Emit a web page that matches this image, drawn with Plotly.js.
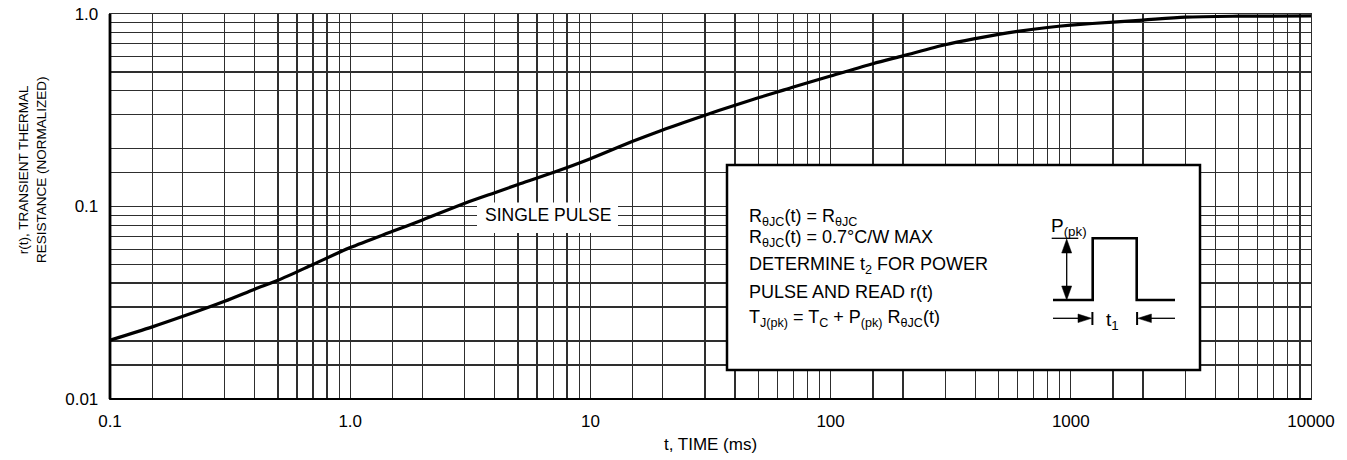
<!DOCTYPE html>
<html>
<head>
<meta charset="utf-8">
<script src="https://cdn.plot.ly/plotly-3.0.1.min.js"></script>
<style>
html,body{margin:0;padding:0;background:#fff;}
#chart{width:1347px;height:460px;}
</style>
</head>
<body>
<div id="chart"></div>
<script>
// ---- data ----
var timeMs = [0.1, 0.15, 0.2, 0.3, 0.4, 0.5, 0.7, 1.0, 1.5, 2, 3, 4, 5, 7, 10, 15, 20, 30, 40, 50, 60, 70, 100, 150, 200, 300, 400, 500, 600, 800, 1000, 1500, 2000, 3000, 5000, 10000];
var rNorm  = [0.0202, 0.0237, 0.0268, 0.0322, 0.0372, 0.0414, 0.0500, 0.0612, 0.0743, 0.0851, 0.104, 0.118, 0.130, 0.150, 0.177, 0.218, 0.250, 0.298, 0.336, 0.367, 0.393, 0.418, 0.476, 0.552, 0.606, 0.692, 0.745, 0.784, 0.812, 0.851, 0.875, 0.908, 0.930, 0.963, 0.974, 0.978];

var xDecadeVals = [0.1, 1, 10, 100, 1000, 10000];
var xDecadeText = ['0.1', '1.0', '10', '100', '1000', '10000'];
var yDecadeVals = [0.01, 0.1, 1];
var yDecadeText = ['0.01', '0.1', '1.0'];
var gridMantissas = [1.5, 2, 3, 4, 5, 6, 7, 8, 9];
var xDecades = [0.1, 1, 10, 100, 1000];
var yDecades = [0.01, 0.1];

function minorVals(decades){
  var v = [];
  decades.forEach(function(d){ gridMantissas.forEach(function(m){ v.push(+(d*m).toPrecision(6)); }); });
  return v;
}

var FONT = 'Liberation Sans, Arial, Helvetica, sans-serif';

// pixel -> paper helpers for decorations (plot area: x 110..1311, y 14..399)
function px(x){ return (x-110)/1201; }
function py(y){ return (399-y)/385; }
function P(x, y){ return px(x) + ',' + py(y); }

var trace = {
  x: timeMs, y: rNorm, type: 'scatter', mode: 'lines',
  line: {color: '#000', width: 3.2, shape: 'spline', smoothing: 0.8},
  hoverinfo: 'skip', showlegend: false
};

var insetLines = [
  {t: 'R<sub>θJC</sub>(t) = R<sub>θJC</sub>', y: 217},
  {t: 'R<sub>θJC</sub>(t) = 0.7°C/W MAX', y: 238},
  {t: 'DETERMINE t<sub>2</sub> FOR POWER', y: 265},
  {t: 'PULSE AND READ r(t)', y: 292},
  {t: 'T<sub>J(pk)</sub> = T<sub>C</sub> + P<sub>(pk)</sub> R<sub>θJC</sub>(t)', y: 318}
];

var annotations = [
  {xref:'paper', yref:'paper', x: px(32), y: py(170), text: 'r(t), TRANSIENT THERMAL<br>RESISTANCE (NORMALIZED)',
   textangle: -90, showarrow: false, font: {family: FONT, size: 13.5, color: '#000'}, xanchor:'center', yanchor:'middle'},
  {xref:'paper', yref:'paper', x: px(548), y: py(215), text: 'SINGLE PULSE', showarrow: false,
   font: {family: FONT, size: 17.5, color: '#000'}, xanchor:'center', yanchor:'middle'},
  {xref:'paper', yref:'paper', x: px(1069), y: py(227), text: 'P<sub>(pk)</sub>', showarrow: false,
   font: {family: FONT, size: 19, color: '#000'}, xanchor:'center', yanchor:'middle'},
  {xref:'paper', yref:'paper', x: px(1112), y: py(321), text: 't<sub>1</sub>', showarrow: false,
   font: {family: FONT, size: 19, color: '#000'}, xanchor:'center', yanchor:'middle'}
];
insetLines.forEach(function(l){
  annotations.push({xref:'paper', yref:'paper', x: px(747), y: py(l.y), text: l.t, showarrow: false,
    font: {family: FONT, size: 18, color: '#000'}, xanchor: 'left', yanchor: 'middle', align: 'left'});
});

function seg(x0, y0, x1, y1, w){
  return {type:'line', xref:'paper', yref:'paper', x0: px(x0), x1: px(x1), y0: py(y0), y1: py(y1),
          line:{color:'#000', width:w}, layer:'above'};
}
function tri(pts){
  return {type:'path', xref:'paper', yref:'paper',
          path: 'M ' + P(pts[0][0], pts[0][1]) + ' L ' + P(pts[1][0], pts[1][1]) + ' L ' + P(pts[2][0], pts[2][1]) + ' Z',
          fillcolor:'#000', line:{color:'#000', width:0.5}, layer:'above'};
}

var shapes = [
  // white gap behind SINGLE PULSE (grid interrupted)
  {type:'rect', xref:'paper', yref:'paper', x0: px(477), x1: px(618), y0: py(233), y1: py(202.5),
   fillcolor:'#fff', line:{width:0}, layer:'above'},
  // inset box
  {type:'rect', xref:'paper', yref:'paper', x0: px(727), x1: px(1200), y0: py(370), y1: py(165),
   fillcolor:'#fff', line:{color:'#000', width:2.5}, layer:'above'},
  // pulse waveform
  {type:'path', xref:'paper', yref:'paper',
   path: 'M '+P(1053,300)+' L '+P(1092.7,300)+' L '+P(1092.7,238.3)+' L '+P(1136.7,238.3)+' L '+P(1136.7,300)+' L '+P(1175,300),
   line:{color:'#000', width:2.6}, layer:'above'},
  // top reference tick for P(pk)
  seg(1051.7, 238.3, 1078.3, 238.3, 1.3),
  // vertical double arrow
  seg(1066.7, 250, 1066.7, 289, 1.3),
  tri([[1066.7, 239], [1061.7, 253], [1071.7, 253]]),
  tri([[1066.7, 300], [1061.7, 286], [1071.7, 286]]),
  // t1 dimension arrows
  seg(1053, 318.3, 1080, 318.3, 1.3),
  tri([[1091.5, 318.3], [1078, 314], [1078, 322.6]]),
  seg(1149, 318.3, 1175, 318.3, 1.3),
  tri([[1137.9, 318.3], [1151.4, 314], [1151.4, 322.6]]),
  seg(1092.4, 312, 1092.4, 325, 2),
  seg(1137.1, 312, 1137.1, 325, 2),
  // heavy left and bottom axis lines
  {type:'line', xref:'paper', yref:'paper', x0: 0, x1: 0, y0: 0, y1: 1, line:{color:'#000', width:2.8}, layer:'above'},
  {type:'line', xref:'paper', yref:'paper', x0: 0, x1: 1, y0: 0, y1: 0, line:{color:'#000', width:2.2}, layer:'above'}
];

var GRID = '#2e2e2e';
var axisCommon = {
  type: 'log', tickmode: 'array', showgrid: true, gridcolor: GRID, gridwidth: 1.3,
  showline: true, linecolor: GRID, linewidth: 1.3, mirror: true, ticks: '', zeroline: false,
  tickfont: {family: FONT, size: 17, color: '#000'}, fixedrange: true
};

var layout = {
  width: 1347, height: 460,
  margin: {l: 110, r: 36, t: 14, b: 61, pad: 0},
  paper_bgcolor: '#fff', plot_bgcolor: '#fff',
  showlegend: false,
  xaxis: Object.assign({}, axisCommon, {
    range: [-1, 4], tickvals: xDecadeVals, ticktext: xDecadeText, ticklabelstandoff: 6,
    minor: {tickmode: 'array', tickvals: minorVals(xDecades), showgrid: true, gridcolor: GRID, gridwidth: 1.3, ticks: ''},
    title: {text: 't, TIME (ms)', font: {family: FONT, size: 17, color: '#000'}, standoff: 8}
  }),
  yaxis: Object.assign({}, axisCommon, {
    range: [-2, 0], tickvals: yDecadeVals, ticktext: yDecadeText, ticklabelstandoff: 7,
    minor: {tickmode: 'array', tickvals: minorVals(yDecades), showgrid: true, gridcolor: GRID, gridwidth: 1.3, ticks: ''}
  }),
  annotations: annotations,
  shapes: shapes
};

Plotly.newPlot('chart', [trace], layout, {displayModeBar: false, staticPlot: true});
</script>
</body>
</html>
